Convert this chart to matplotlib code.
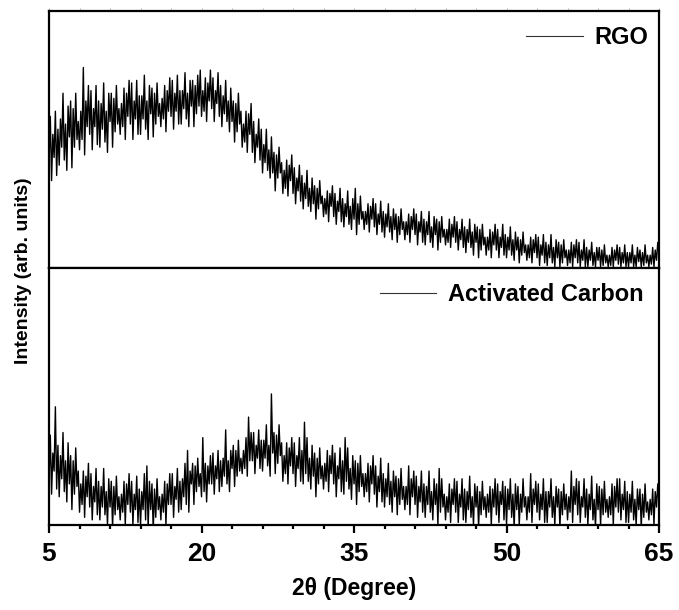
import numpy as np
import matplotlib.pyplot as plt

plt.rcParams['font.family'] = ['Liberation Sans', 'DejaVu Sans']
plt.rcParams['font.weight'] = 'bold'

# 2theta grid, one reading every 0.125 degree (eight per degree)
two_theta = np.arange(5, 65.001, 0.125)
x_major = [5, 20, 35, 50, 65]

# RGO intensity (arb. units, 0-100), one row per degree
rgo = [
    41, 59, 34, 52, 43, 61, 36, 54,   # 5
    40, 58, 47, 68, 42, 56, 38, 63,
    51, 65, 39, 62, 47, 68, 50, 57,
    46, 61, 50, 78, 44, 65, 55, 71,
    52, 69, 46, 62, 55, 71, 48, 65,
    47, 64, 54, 72, 49, 61, 45, 68,   # 10
    57, 68, 47, 66, 53, 71, 56, 62,
    52, 64, 55, 70, 50, 68, 59, 73,
    56, 72, 50, 65, 58, 73, 52, 67,
    52, 67, 58, 75, 54, 65, 50, 71,
    60, 70, 51, 68, 56, 72, 59, 64,   # 15
    55, 66, 58, 71, 53, 69, 61, 74,
    59, 73, 54, 68, 61, 75, 56, 69,
    56, 69, 62, 76, 58, 68, 55, 73,
    63, 73, 55, 71, 60, 75, 63, 77,
    59, 69, 61, 74, 57, 72, 65, 77,   # 20
    62, 74, 57, 69, 64, 76, 59, 71,
    55, 67, 60, 73, 57, 65, 53, 70,
    57, 65, 49, 64, 53, 68, 56, 61,
    47, 56, 49, 61, 45, 60, 52, 64,
    45, 57, 41, 52, 47, 58, 42, 54,   # 25
    37, 48, 41, 54, 38, 46, 35, 51,
    37, 45, 30, 44, 35, 47, 37, 41,
    29, 38, 31, 42, 28, 40, 34, 44,
    29, 39, 25, 35, 30, 40, 26, 36,
    23, 33, 27, 38, 24, 31, 22, 35,   # 30
    25, 32, 19, 31, 23, 34, 25, 28,
    20, 27, 21, 30, 18, 29, 24, 32,
    20, 29, 17, 26, 22, 31, 18, 27,
    16, 25, 20, 30, 17, 24, 15, 27,
    19, 31, 13, 25, 17, 28, 19, 22,   # 35
    15, 22, 17, 25, 14, 24, 19, 27,
    16, 25, 13, 21, 17, 26, 14, 22,
    12, 21, 16, 25, 14, 20, 11, 23,
    15, 21, 10, 20, 13, 23, 15, 18,
    11, 18, 13, 21, 10, 20, 15, 23,   # 40
    13, 21, 9, 18, 14, 22, 10, 19,
    9, 18, 13, 22, 10, 16, 8, 20,
    13, 19, 7, 18, 10, 20, 12, 15,
    9, 15, 10, 19, 8, 17, 12, 20,
    10, 18, 7, 15, 11, 19, 8, 16,     # 45
    6, 15, 10, 19, 8, 14, 5, 17,
    10, 16, 4, 15, 7, 17, 9, 12,
    5, 12, 7, 15, 4, 14, 9, 17,
    7, 15, 4, 12, 8, 17, 5, 13,
    4, 12, 7, 16, 5, 11, 3, 14,       # 50
    7, 12, 2, 11, 5, 14, 6, 9,
    3, 9, 4, 12, 2, 11, 6, 13,
    4, 12, 1, 9, 5, 13, 2, 10,
    1, 9, 4, 13, 2, 8, 0.5, 11,
    4, 10, 0.5, 9, 2, 11, 4, 7,       # 55
    1, 7, 2, 10, 0.5, 9, 4, 11,
    2, 10, 0.5, 7, 3, 11, 0.5, 8,
    0.5, 7, 3, 10, 1, 6, 0.5, 8,
    3, 8, 0.5, 7, 1, 9, 2, 5,
    0.5, 5, 1, 8, 0.5, 7, 3, 9,       # 60
    1.5, 8, 0.5, 6, 2, 9, 0.5, 6,
    0.5, 6, 2, 9, 0.5, 5, 0.5, 8,
    2.5, 7, 0.5, 6, 1, 9, 2, 5,
    0.5, 5, 1.5, 8, 0.5, 7, 3, 10,
    5,                                # 65
]

# Activated carbon intensity (arb. units, lower panel, 0-100)
carbon = [
    18, 35, 12, 28, 21, 46, 14, 31,   # 5
    11, 27, 18, 36, 13, 25, 9, 32,
    16, 27, 6, 25, 12, 30, 15, 21,
    5, 16, 8, 21, 3, 19, 11, 24,
    7, 20, 2, 15, 9, 22, 4, 17,
    2, 15, 7, 22, 4, 13, 0, 18,       # 10
    7, 17, -1, 15, 4, 19, 6, 11,
    2, 12, 5, 17, 0, 16, 8, 20,
    5, 17, 0, 12, 6, 19, 1, 14,
    0, 13, 6, 20, 2, 23, -1, 17,
    6, 16, -2, 14, 3, 18, 6, 11,      # 15
    2, 12, 5, 17, 0, 16, 8, 20,
    8, 20, 3, 15, 10, 22, 5, 17,
    6, 18, 11, 24, 8, 29, 5, 21,
    16, 24, 8, 23, 13, 26, 15, 20,
    11, 34, 13, 24, 9, 23, 16, 27,    # 20
    16, 28, 12, 23, 18, 29, 13, 25,
    15, 26, 19, 37, 16, 25, 13, 29,
    22, 31, 15, 29, 19, 33, 21, 26,
    20, 29, 22, 34, 19, 42, 25, 36,
    25, 36, 20, 31, 26, 37, 22, 33,   # 25
    21, 33, 26, 39, 23, 31, 19, 51,
    28, 36, 20, 35, 24, 39, 27, 32,
    17, 27, 20, 32, 16, 30, 23, 34,
    20, 32, 15, 27, 22, 34, 17, 29,
    16, 40, 20, 34, 17, 26, 14, 31,   # 30
    19, 28, 11, 26, 16, 30, 18, 23,
    14, 24, 17, 29, 13, 27, 20, 31,
    16, 28, 11, 23, 18, 30, 13, 25,
    12, 34, 17, 30, 14, 22, 10, 27,
    16, 25, 8, 24, 13, 27, 15, 20,    # 35
    11, 20, 13, 24, 9, 23, 16, 27,
    12, 23, 7, 19, 13, 26, 9, 20,
    7, 18, 11, 24, 8, 17, 5, 21,
    11, 19, 4, 18, 8, 22, 10, 15,
    6, 15, 8, 23, 4, 18, 11, 21,      # 40
    8, 19, 3, 15, 9, 21, 5, 16,
    3, 15, 8, 21, 5, 13, 2, 18,
    8, 16, 0, 22, 5, 18, 7, 12,
    2, 11, 5, 16, 1, 14, 8, 18,
    5, 17, 1, 12, 7, 18, 2, 14,       # 45
    1, 13, 6, 19, 3, 11, 0, 16,
    7, 15, -1, 13, 4, 17, 6, 11,
    3, 12, 5, 15, 0, 14, 7, 18,
    4, 16, 1, 13, 8, 17, 2, 15,
    0, 14, 6, 18, 3, 12, -1, 16,      # 50
    6, 15, 0, 12, 5, 18, 7, 11,
    2, 11, 5, 20, 1, 14, 8, 17,
    5, 16, 2, 12, 6, 18, 1, 13,
    1, 13, 7, 18, 3, 11, 0, 15,
    7, 14, -1, 13, 4, 16, 6, 12,      # 55
    2, 11, 5, 21, 1, 15, 8, 18,
    4, 17, 1, 11, 7, 18, 3, 14,
    0, 12, 6, 19, 2, 10, -1, 16,
    6, 15, 0, 14, 4, 17, 5, 10,
    3, 11, 4, 16, 0, 15, 7, 18,       # 60
    5, 18, 2, 12, 6, 17, 1, 13,
    1, 12, 5, 17, 2, 10, 0, 14,
    6, 14, -1, 12, 3, 16, 5, 9,
    2, 10, 4, 14, 0, 13, 7, 16,
    8,                                # 65
]

series = [('RGO', rgo, 1.008), ('Activated Carbon', carbon, 1.0)]

fig, axes = plt.subplots(2, 1, figsize=(6.79, 6.10), dpi=100, sharex=True)
fig.subplots_adjust(left=0.0722, right=0.9706, top=0.982, bottom=0.1393, hspace=0)

for ax, (name, vals, lx) in zip(axes, series):
    ax.plot(two_theta, vals, color='black', lw=1.0, label=name)
    ax.set_xlim(5, 65)
    ax.set_ylim(0, 100)
    ax.set_yticks([])
    for s in ax.spines.values():
        s.set_linewidth(1.6)
    leg = ax.legend(loc='upper right', bbox_to_anchor=(lx, 1.0), frameon=False,
                    fontsize=17, handlelength=2.4, handletextpad=0.5, borderaxespad=0.25)
    for h in leg.get_lines():
        h.set_linewidth(0.8)
        h.set_color('#333333')

top, bot = axes
top.set_xticks(range(5, 66, 5))
top.tick_params(axis='x', which='both', bottom=True, top=True, direction='out',
                length=2, width=0.5, color='#999999', labelbottom=False)

bot.set_xticks(x_major)
bot.set_xticks(range(5, 66, 3), minor=True)
bot.tick_params(axis='x', which='major', direction='out', length=6, width=1.6,
                labelsize=19, pad=6)
bot.tick_params(axis='x', which='minor', direction='out', length=3, width=1.6)
bot.set_xlabel('2θ (Degree)', fontsize=16.5, fontweight='bold', labelpad=8)

fig.text(0.034, 0.556, 'Intensity (arb. units)', rotation=90, fontsize=14,
         fontweight='bold', ha='center', va='center')

plt.savefig('out.png', dpi=100)
